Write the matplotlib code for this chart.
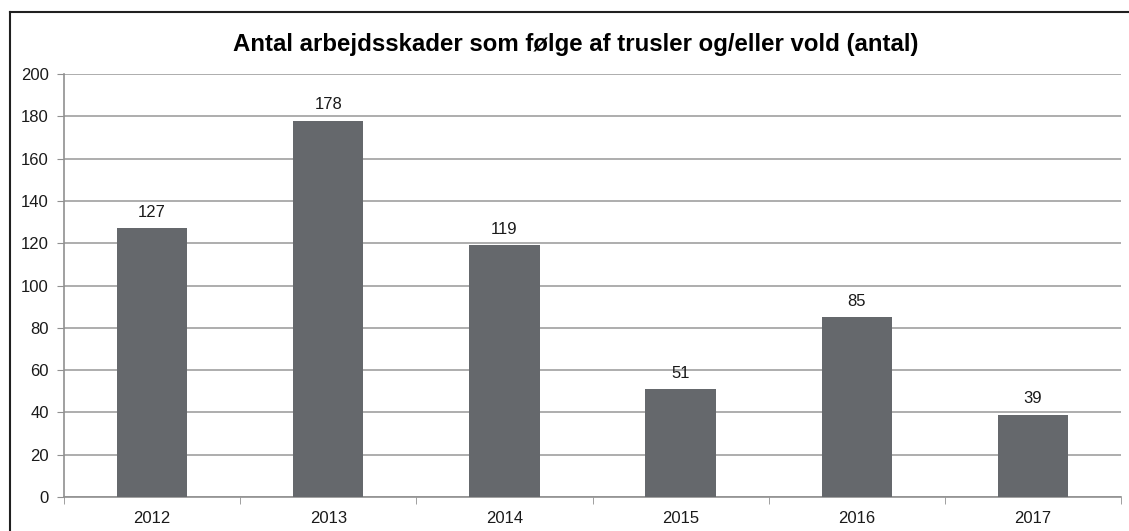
import matplotlib.pyplot as plt
import numpy as np
from matplotlib.lines import Line2D

years = ['2012', '2013', '2014', '2015', '2016', '2017']
counts = [127, 178, 119, 51, 85, 39]

plt.rcParams['font.family'] = ['Liberation Sans', 'DejaVu Sans']

fig = plt.figure(figsize=(11.29, 5.31), dpi=100)
ax = fig.add_axes([64/1129, 34/531, (1121-64)/1129, (497-74)/531])

x = np.arange(len(years))
bars = ax.bar(x, counts, width=0.4, color='#65686c', zorder=3)

# value labels above the bars
for xi, v in zip(x, counts):
    ax.annotate(str(v), xy=(xi, v), xytext=(0, 6), textcoords='offset points',
                ha='center', va='bottom', fontsize=12, color='#1a1a1a')

ax.set_xlim(-0.5, len(years) - 0.5)
ax.set_ylim(0, 200)
ax.set_yticks(np.arange(0, 201, 20))
ax.set_xticks(x)
ax.set_xticklabels(years)
ax.set_xticks(np.arange(-0.5, len(years)), minor=True)
ax.tick_params(axis='x', which='major', length=0, pad=10, labelsize=12, colors='#1a1a1a')
ax.tick_params(axis='x', which='minor', length=5, color='#909090')
ax.tick_params(axis='y', length=5, color='#909090', labelsize=12, labelcolor='#1a1a1a', pad=6)

ax.yaxis.grid(True, color='#a0a0a0', linewidth=1.2, zorder=0)
ax.set_axisbelow(True)
for s in ['top', 'right']:
    ax.spines[s].set_visible(False)
for s in ['left', 'bottom']:
    ax.spines[s].set_color('#909090')
    ax.spines[s].set_linewidth(1.2)

fig.text(576/1129, 1 - 44/531, 'Antal arbejdsskader som følge af trusler og/eller vold (antal)',
         ha='center', va='center', fontsize=17.3, fontweight='bold', color='black')

# outer frame (top and left only visible)
fx = 9.5/1129
fy = 1 - 11.5/531
fig.add_artist(Line2D([fx, fx], [0, fy], transform=fig.transFigure, color='#202020', linewidth=1.5))
fig.add_artist(Line2D([fx, 1], [fy, fy], transform=fig.transFigure, color='#202020', linewidth=1.5))

plt.savefig('out.png', dpi=100)
